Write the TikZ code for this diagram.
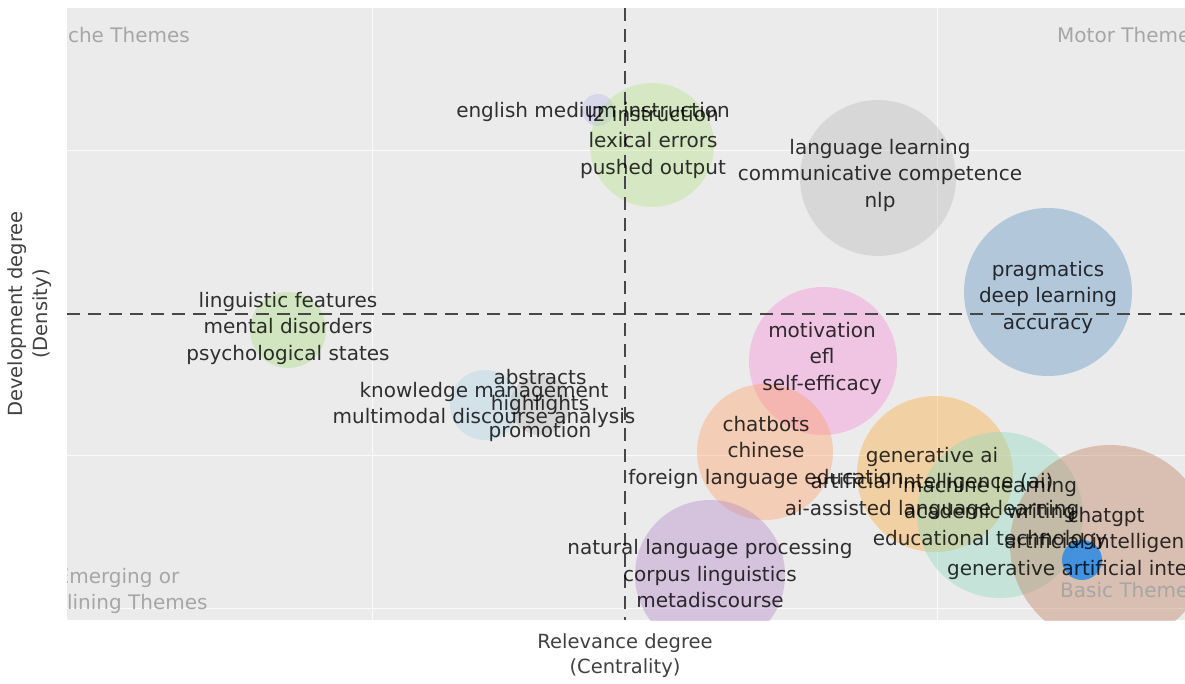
\documentclass[tikz,border=0pt]{standalone}
\usepackage{fontspec}
\setmainfont{DejaVu Sans}
\usepackage{tikz}
\usetikzlibrary{positioning}
\definecolor{panelgray}{HTML}{EBEBEB}
\definecolor{emicol}{RGB}{187,187,232}
\definecolor{l2col}{RGB}{182,227,137}
\definecolor{llcol}{RGB}{187,187,187}
\definecolor{pragcol}{RGB}{97,147,195}
\definecolor{lingcol}{RGB}{170,220,130}
\definecolor{motcol}{RGB}{247,142,215}
\definecolor{kmcol}{RGB}{175,212,232}
\definecolor{abscol}{RGB}{183,183,183}
\definecolor{chatcol}{RGB}{255,160,102}
\definecolor{genaicol}{RGB}{252,170,55}
\definecolor{mlcol}{RGB}{140,217,192}
\definecolor{gptcol}{RGB}{192,127,92}
\definecolor{nlpcol}{RGB}{180,135,202}
\definecolor{dotcol}{RGB}{43,138,230}
\tikzset{
  bubble/.style={circle, inner sep=0pt, draw=none, fill opacity=0.4},
  kw/.style={align=center, text=black, text opacity=0.8, inner sep=0pt, font=\fontsize{20}{26.5}\selectfont},
  corner/.style={text=black!35, inner sep=0pt, font=\fontsize{20}{26}\selectfont},
  axistitle/.style={align=center, text=black!75, inner sep=0pt, font=\fontsize{19.5}{25}\selectfont},
  quadline/.style={dashed, dash pattern=on 13pt off 8pt, line width=2.6pt, draw=black!72},
  gridline/.style={draw=white, line width=0.8pt, draw opacity=0.8},
}

\begin{document}
\begin{tikzpicture}[x=1pt, y=-1pt]
  \useasboundingbox (0,0) rectangle (1185,684);

  % panel and grid
  \fill[panelgray] (67,8) rectangle (1185,620);
  \foreach \gx in {372,937} {
    \draw[gridline] (\gx,8) -- (\gx,620);
  }
  \foreach \gy in {150,455} {
    \draw[gridline] (67,\gy) -- (1185,\gy);
  }
  \draw[gridline, line width=0.5pt] (67,608) -- (1185,608);

  \begin{scope}
    \clip (67,8) rectangle (1185,620);

    % clusters
    \node[bubble, minimum size=32pt, fill=emicol] (emi) at (598,110) {};
    \node[bubble, minimum size=124pt, fill=l2col] (l2) at (652,145) {};
    \node[bubble, minimum size=156pt, fill=llcol] (ll) at (878,178) {};
    \node[bubble, minimum size=168pt, fill=pragcol] (prag) at (1048,292) {};
    \node[bubble, minimum size=76pt, fill=lingcol] (ling) at (288,330) {};
    \node[bubble, minimum size=148pt, fill=motcol] (mot) at (823,361) {};
    \node[bubble, minimum size=70pt, fill=kmcol] (km) at (485,405) {};
    \node[bubble, minimum size=60pt, fill=abscol] (abs) at (540,405) {};
    \node[bubble, minimum size=136pt, fill=chatcol] (chat) at (765,452) {};
    \node[bubble, minimum size=156pt, fill=genaicol] (genai) at (935,474) {};
    \node[bubble, minimum size=166pt, fill=mlcol] (ml) at (1000,515) {};
    \node[bubble, minimum size=200pt, fill=gptcol] (gpt) at (1110,545) {};
    \node[bubble, minimum size=40pt, fill=dotcol, fill opacity=0.85] (dot) at (1082,560) {};
    \node[bubble, minimum size=150pt, fill=nlpcol] (nlp) at (710,575) {};

    % quadrant lines
    \draw[quadline] (625,8) -- (625,620);
    \draw[quadline] (67,314) -- (1185,314);

    % quadrant names
    \node[corner, anchor=east] (niche) at (190,35) {Niche Themes};
    \node[corner, anchor=west] (motor) at (1057,35) {Motor Themes};
    \node[corner, align=center] (emerging) at (118,591) {Emerging or\\Declining Themes};
    \node[corner, anchor=west] (basic) at (1060,590) {Basic Themes};

    % keywords
    \node[kw] (emitxt) at (593,112) {english medium instruction};
    \node[kw] (l2txt) at (653,142) {l2 instruction\\lexical errors\\pushed output};
    \node[kw] (lltxt) at (880,175) {language learning\\communicative competence\\nlp};
    \node[kw] (pragtxt) at (1048,297) {pragmatics\\deep learning\\accuracy};
    \node[kw] (lingtxt) at (288,328) {linguistic features\\mental disorders\\psychological states};
    \node[kw] (mottxt) at (822,358) {motivation\\efl\\self-efficacy};
    \node[kw] (kmtxt) at (484,405) {knowledge management\\multimodal discourse analysis};
    \node[kw] (abstxt) at (540,405) {abstracts\\highlights\\promotion};
    \node[kw] (chattxt) at (766,452) {chatbots\\chinese\\foreign language education};
    \node[kw] (genaitxt) at (932,483) {generative ai\\artificial intelligence (ai)\\ai-assisted language learning};
    \node[kw] (mltxt) at (990,513) {machine learning\\academic writing\\educational technology};
    \node[kw] (gpttxt) at (1106,543) {chatgpt\\artificial intelligence\\generative artificial intelligence};
    \node[kw] (nlptxt) at (710,574) {natural language processing\\corpus linguistics\\metadiscourse};
  \end{scope}

  % axis titles
  \node[axistitle] (xtitle) at (625,643) {Relevance degree};
  \node[axistitle, below=6pt of xtitle] (xsub) {(Centrality)};
  \node[axistitle, rotate=90] (ytitle) at (30,314) {Development degree\\(Density)};
\end{tikzpicture}
\end{document}
